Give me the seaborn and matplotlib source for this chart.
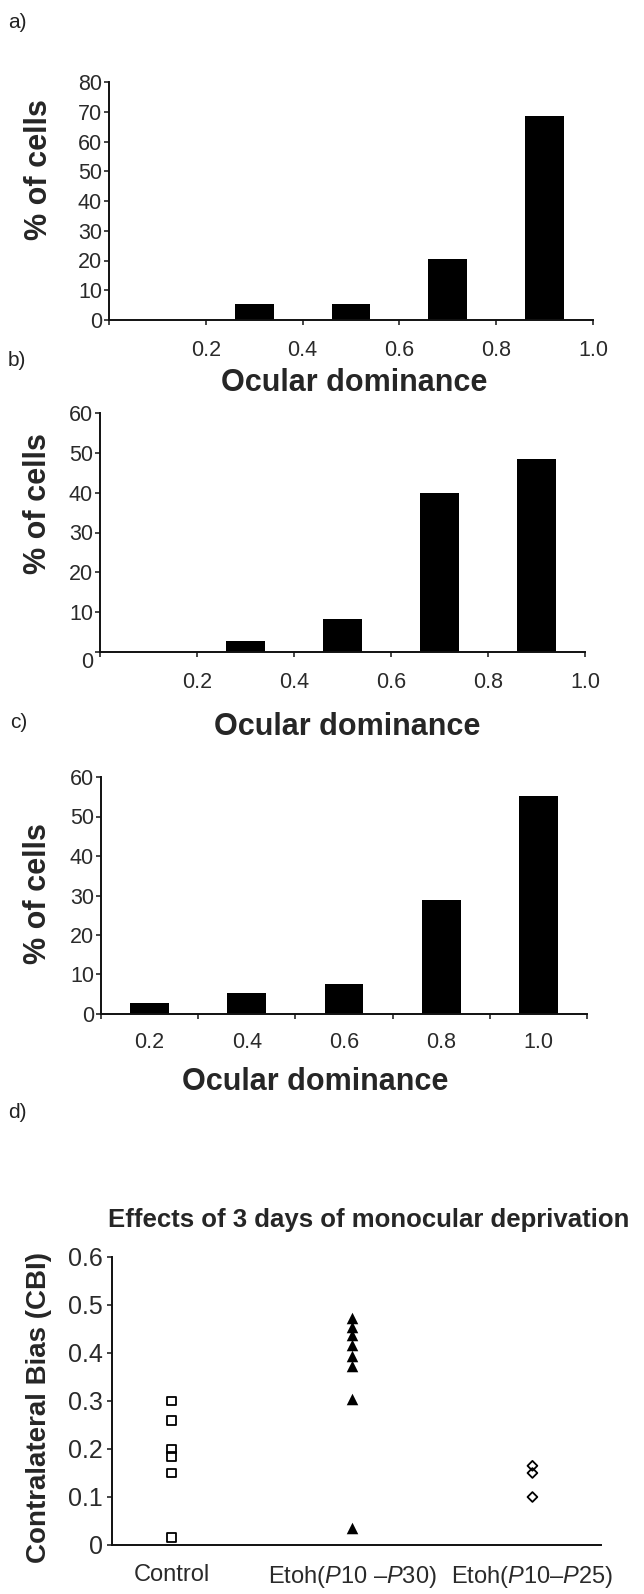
import numpy as np
import pandas as pd
import matplotlib
matplotlib.use("Agg")
import matplotlib.pyplot as plt
import seaborn as sns

# ---- data -------------------------------------------------------------
od_bins = ["0.0-0.2", "0.2-0.4", "0.4-0.6", "0.6-0.8", "0.8-1.0"]
od_tick_labels = ["0.2", "0.4", "0.6", "0.8", "1.0"]

cells_a = [0.0, 5.3, 5.3, 20.5, 68.7]
cells_b = [0.0, 2.8, 8.3, 40.0, 48.5]
cells_c = [2.8, 5.3, 7.7, 28.8, 55.2]

groups = ["Control", "Etoh(P10 -P30)", "Etoh(P10-P25)"]
group_labels = ["Control",
                "Etoh$\\mathit{(P10\\ \u2013P30)}$",
                "Etoh$\\mathit{(P10\u2013P25)}$"]
cbi_control = [0.30, 0.26, 0.20, 0.185, 0.15, 0.015]
cbi_etoh_p30 = [0.473, 0.455, 0.437, 0.416, 0.394, 0.373, 0.305, 0.035]
cbi_etoh_p25 = [0.165, 0.15, 0.10]
cbi_ticks = [0.0, 0.1, 0.2, 0.3, 0.4, 0.5, 0.6]
cbi_tick_labels = ["0", "0.1", "0.2", "0.3", "0.4", "0.5", "0.6"]

# ---- style ------------------------------------------------------------
sns.set_style("ticks")
plt.rcParams["font.family"] = ["Liberation Sans", "DejaVu Sans"]
plt.rcParams["mathtext.fontset"] = "custom"
plt.rcParams["mathtext.rm"] = "Liberation Sans"
plt.rcParams["mathtext.it"] = "Liberation Sans:italic"
plt.rcParams["axes.linewidth"] = 1.4
plt.rcParams["axes.edgecolor"] = "#111111"

W, H = 644, 1594
fig = plt.figure(figsize=(W / 100, H / 100), dpi=100)


def add_ax(left, right, top, bottom):
    return fig.add_axes([left / W, 1 - bottom / H, (right - left) / W, (bottom - top) / H])


TICK_COLOR = "#2a2a2a"


def od_panel(ax, values, ymax, centered, xlab_pos, ylab_pos, xpad):
    df = pd.DataFrame({"bin": od_bins, "pct": values})
    sns.barplot(data=df, x="bin", y="pct", order=od_bins, color="black",
                saturation=1, width=0.4, linewidth=0, ax=ax)
    sns.despine(ax=ax)
    ax.set_xlim(-0.5, 4.5)
    ax.set_ylim(0, ymax)
    ax.set_yticks(range(0, ymax + 1, 10))
    edges = np.arange(-0.5, 5.0, 1.0)
    if centered:
        ax.set_xticks(edges, [""] * len(edges))
        ax.set_xticks(np.arange(5), od_tick_labels, minor=True)
        ax.tick_params(axis="x", which="minor", length=0, pad=xpad,
                       labelsize=15.5, labelcolor=TICK_COLOR)
    else:
        ax.set_xticks(edges, [""] + od_tick_labels)
    ax.tick_params(axis="both", which="major", direction="out", length=3.5,
                   width=1.2, labelsize=15.5, labelcolor=TICK_COLOR)
    ax.tick_params(axis="x", which="major", pad=xpad)
    ax.tick_params(axis="y", pad=1.5)
    ax.set_xlabel("Ocular dominance", fontsize=22, fontweight="bold", va="center")
    ax.set_ylabel("% of cells", fontsize=22, fontweight="bold", va="center")
    ax.xaxis.set_label_coords(*xlab_pos)
    ax.yaxis.set_label_coords(*ylab_pos)


# a) -------------------------------------------------------------------
ax_a = add_ax(109, 593, 82, 320)
od_panel(ax_a, cells_a, 80, False, (0.506, -0.265), (-0.145, 0.63), 11)

# b) -------------------------------------------------------------------
ax_b = add_ax(100, 585, 413, 652)
od_panel(ax_b, cells_b, 60, False, (0.509, -0.314), (-0.128, 0.623), 11)
ax_b.get_yticklabels()[0].set_va("top")

# c) -------------------------------------------------------------------
ax_c = add_ax(101, 587, 777, 1014)
od_panel(ax_c, cells_c, 60, True, (0.44, -0.287), (-0.13, 0.51), 13)

# d) -------------------------------------------------------------------
ax_d = add_ax(112, 601, 1257, 1545)
cbi = pd.DataFrame({
    "group": [groups[0]] * len(cbi_control) + [groups[1]] * len(cbi_etoh_p30)
             + [groups[2]] * len(cbi_etoh_p25),
    "cbi": cbi_control + cbi_etoh_p30 + cbi_etoh_p25,
})
styles = {
    groups[0]: ("s", 6.4, False),
    groups[1]: ("^", 8.3, True),
    groups[2]: ("D", 5.0, False),
}
made = []
for name, (marker, size, filled) in styles.items():
    n_before = len(ax_d.collections)
    sub = cbi[cbi["group"] == name]
    sns.stripplot(data=sub, x="group", y="cbi", order=groups, jitter=False,
                  marker=marker, size=size, color="black", edgecolor="black",
                  linewidth=0, ax=ax_d)
    made.append((ax_d.collections[n_before:], filled))

# hollow markers for the control and P10-P25 groups
for colls, filled in made:
    for pts in colls:
        if filled:
            pts.set_facecolor("black")
            pts.set_linewidth(0)
        else:
            pts.set_facecolors("none")
            pts.set_edgecolors("black")
            pts.set_linewidths(1.3)

sns.despine(ax=ax_d)
ax_d.set_xlim(-0.33, 2.38)
ax_d.set_ylim(0, 0.6)
ax_d.set_yticks(cbi_ticks, cbi_tick_labels)
ax_d.set_xticks(range(len(groups)), group_labels)
ax_d.tick_params(axis="y", direction="out", length=3.5, width=1.2, pad=3,
                 labelsize=18, labelcolor=TICK_COLOR)
ax_d.tick_params(axis="x", length=0, pad=14, labelsize=17, labelcolor=TICK_COLOR)
ax_d.set_xlabel("")
ax_d.set_ylabel("Contralateral Bias (CBI)", fontsize=20, fontweight="bold", va="center")
ax_d.yaxis.set_label_coords(-0.149, 0.476)
ax_d.set_title("Effects of 3 days of monocular deprivation", fontsize=18.5,
               fontweight="bold", x=0.525, y=1.10, va="center")

# panel letters --------------------------------------------------------
for letter, x, y in [("a)", 8, 23), ("b)", 8, 360), ("c)", 10, 722), ("d)", 8, 1112)]:
    fig.text(x / W, 1 - y / H, letter, fontsize=15, ha="left", va="center",
             color="#222222")

fig.savefig("out.png", dpi=100, facecolor="white")
